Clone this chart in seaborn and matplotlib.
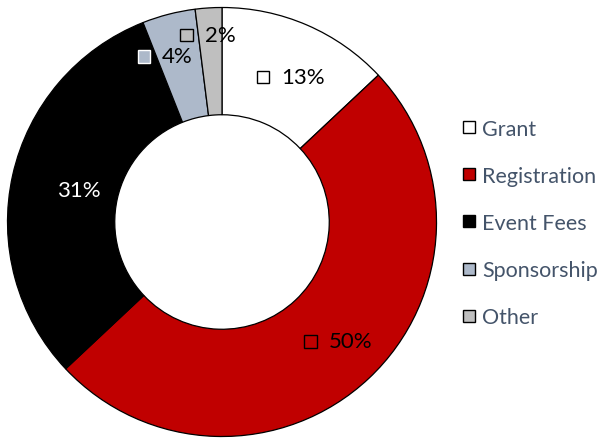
import matplotlib
matplotlib.use("Agg")
import matplotlib.pyplot as plt
import numpy as np
import seaborn as sns
from matplotlib.offsetbox import DrawingArea, TextArea, HPacker, AnnotationBbox
from matplotlib.patches import Rectangle
from matplotlib.lines import Line2D

categories = ["Grant", "Registration", "Event Fees", "Sponsorship", "Other"]
values = [13, 50, 31, 4, 2]
colors = ["#FFFFFF", "#C00000", "#000000", "#ADB9CA", "#BFBFBF"]
label_colors = ["black", "black", "white", "black", "black"]
# label nudges (points) relative to the mid-ring position
label_nudge = [(3.5, -2), (4.5, -1.5), (1, -2), (-12, 7), (-3, 19)]

sns.set_theme(style="white")
plt.rcParams["font.family"] = ["Lato", "DejaVu Sans"]

W, H = 603, 439
fig = plt.figure(figsize=(W / 100, H / 100), dpi=100)
cx, cy, r = 222, 223, 214.5
ax = fig.add_axes([(cx - r) / W, (H - cy - r) / H, 2 * r / W, 2 * r / H])
ax.axis("off")

wedges, _ = ax.pie(values, colors=colors, startangle=90, counterclock=False,
                   radius=1, wedgeprops=dict(width=0.5, edgecolor="black", linewidth=0.9))
ax.set_xlim(-1, 1)
ax.set_ylim(-1, 1)
ax.set_aspect("equal")

total = sum(values)
cum = 0
for i, (v, c) in enumerate(zip(values, colors)):
    mid = 90 - (cum + v / 2) / total * 360
    cum += v
    rr = 0.75
    x, y = rr * np.cos(np.radians(mid)), rr * np.sin(np.radians(mid))
    da = DrawingArea(9, 9, 0, 0)
    da.add_artist(Rectangle((0, 0), 9, 9, facecolor=c,
                            edgecolor="white" if c == "#ADB9CA" else "black", linewidth=1.0))
    ta = TextArea(f"{v}%", textprops=dict(color=label_colors[i], fontsize=16))
    box = HPacker(children=[da, ta], align="center", pad=0, sep=8.5)
    ab = AnnotationBbox(box, (x, y), xybox=label_nudge[i], boxcoords="offset points",
                        frameon=False, box_alignment=(0.5, 0.5), pad=0)
    ax.add_artist(ab)

handles = [Line2D([0], [0], marker="s", linestyle="", markersize=9,
                  markerfacecolor=c, markeredgecolor="black", markeredgewidth=1.0)
           for c in colors]
leg = fig.legend(handles, categories, loc="center left", bbox_to_anchor=(463 / W, 1 - 224 / H),
                 frameon=False, fontsize=15.5, labelspacing=1.26, handlelength=0.6,
                 handletextpad=0.3, borderpad=0, borderaxespad=0)
for t in leg.get_texts():
    t.set_color("#44546A")

fig.savefig("out.png", dpi=100)
